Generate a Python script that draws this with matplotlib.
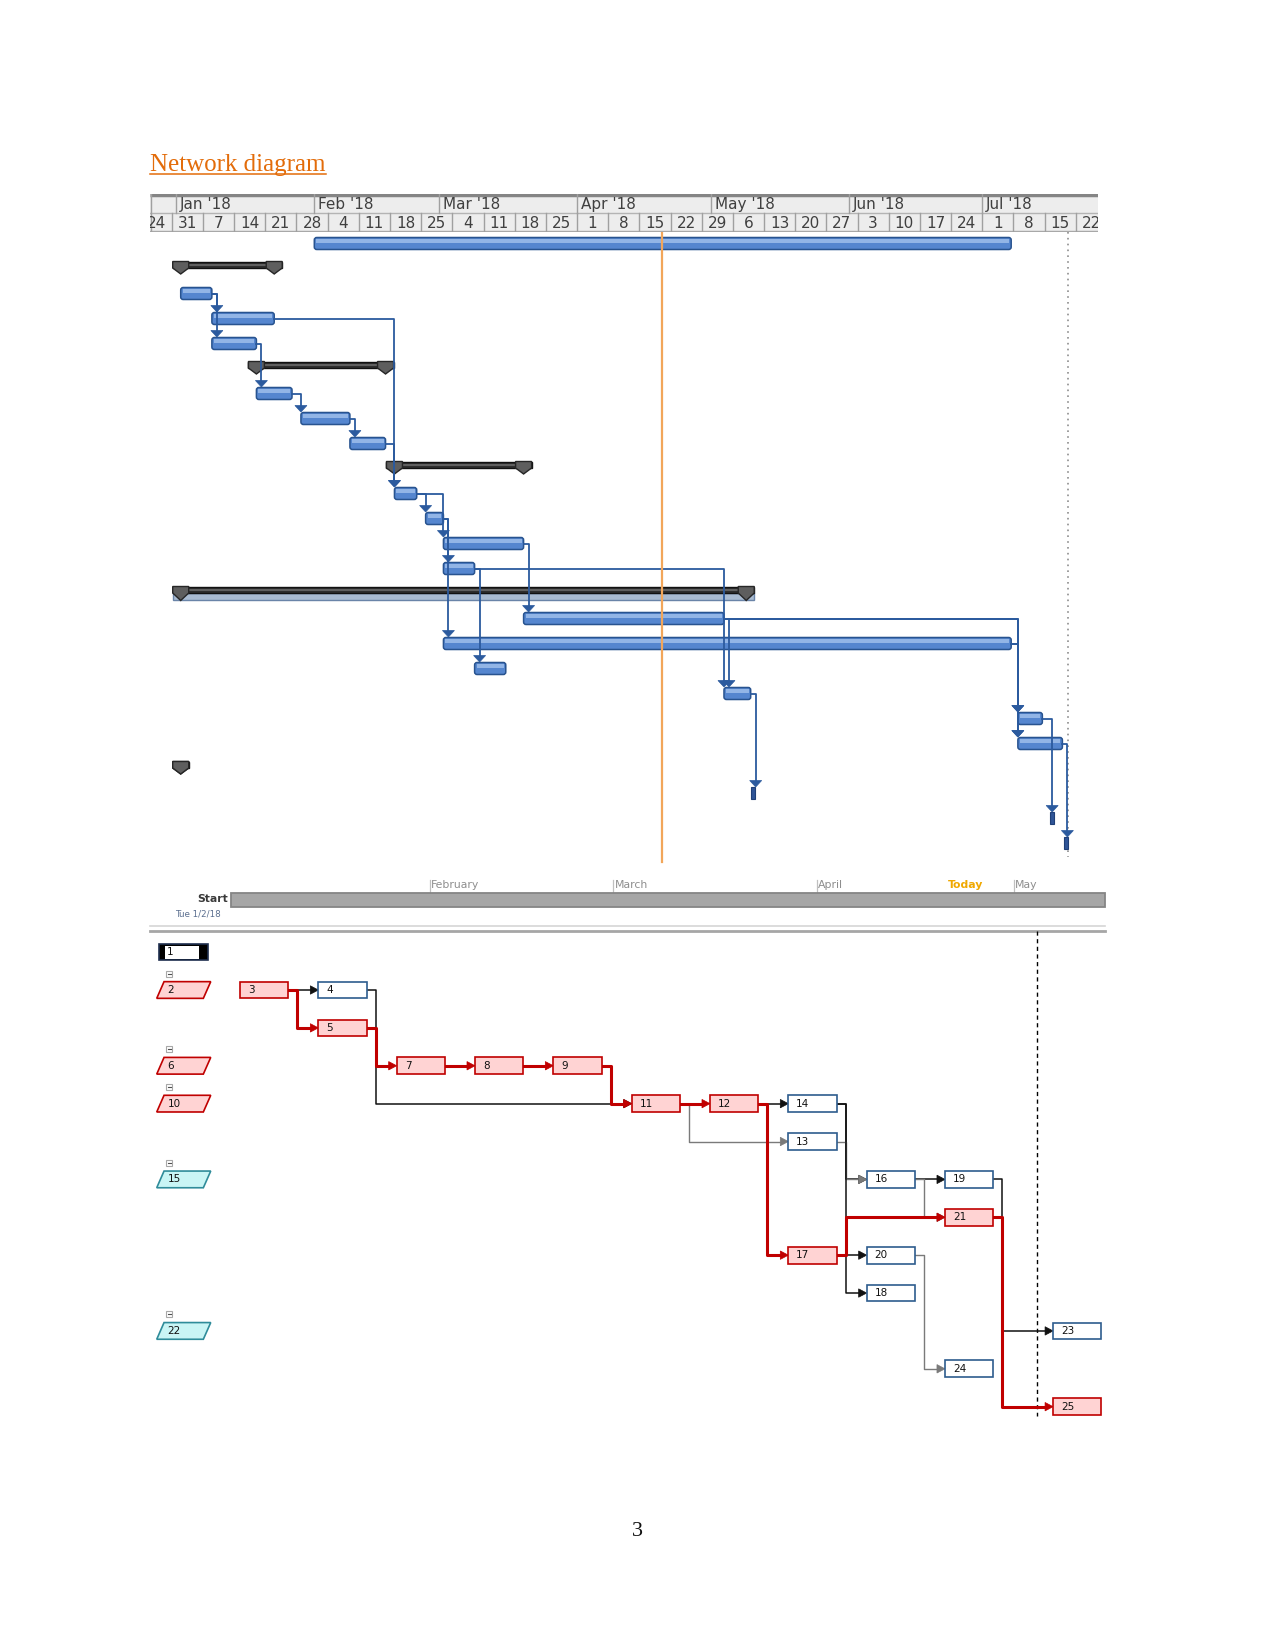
import matplotlib
matplotlib.use("Agg")
import matplotlib.pyplot as plt
from matplotlib.patches import Rectangle, Polygon, FancyBboxPatch
from matplotlib.lines import Line2D
import numpy as np

# ====================== DATA ======================
# Gantt timescale
month_labels = ["Jan '18", "Feb '18", "Mar '18", "Apr '18", "May '18", "Jun '18", "Jul '18"]
month_dates = ["2018-01-01", "2018-02-01", "2018-03-01", "2018-04-01",
               "2018-05-01", "2018-06-01", "2018-07-01"]
week_labels = ["24", "31", "7", "14", "21", "28", "4", "11", "18", "25", "4", "11", "18", "25",
               "1", "8", "15", "22", "29", "6", "13", "20", "27", "3", "10", "17", "24",
               "1", "8", "15", "22"]
week_first_date = "2017-12-24"
base_date = "2017-12-31"          # day 0 of the Gantt scale

# Gantt tasks (days after Sun 31 Dec 2017); row = id - 1
task_ids = list(range(1, 26))
task_kind = ["task", "summary", "task", "task", "task", "summary", "task", "task", "task",
             "summary", "task", "task", "task", "task", "summary2", "task", "task", "task",
             "task", "task", "task", "summary", "milestone", "milestone", "milestone"]
task_start = [32, 2, 2, 9, 9, 19, 19, 29, 40, 50, 50, 57, 61, 61, 2, 79, 61, 68, 124,
              190, 190, 2, 130.5, 197.7, 200.8]
task_finish = [188.5, 23, 9, 23, 19, 48, 27, 40, 48, 79, 55, 61, 79, 68, 129, 124, 188.5,
               75, 130, 195.5, 200, 2, 130.5, 197.7, 200.8]
gantt_links = [(3, 4), (3, 5), (4, 11), (9, 11), (5, 7), (7, 8), (8, 9), (11, 12), (11, 13),
               (12, 14), (12, 17), (13, 16), (14, 18), (14, 19), (16, 19), (16, 20), (16, 21),
               (17, 20), (17, 21), (19, 23), (20, 24), (21, 25)]
today_day = 110.0
status_day = 201.3

# Timeline strip
tl_start_date = "2018-01-02"
tl_end_date = "2018-05-15"
tl_today_date = "2018-04-20"
tl_month_labels = ["February", "March", "April", "May"]
tl_month_dates = ["2018-02-01", "2018-03-01", "2018-04-01", "2018-05-01"]
tl_start_label = "Start"
tl_start_text = "Tue 1/2/18"

# Network diagram nodes (layout column / row)
net_ids = list(range(1, 26))
net_col = [-1.03, -1.063, 0, 1, 1, -1.063, 2, 3, 4, -1.063, 5, 6, 7, 7, -1.063, 8, 7, 8, 9,
           8, 9, -1.063, 10.38, 9, 10.38]
net_row = [0, 1, 1, 1, 2, 3, 3, 3, 3, 4, 4, 4, 5, 4, 6, 6, 8, 9, 6, 8, 7, 10, 10, 11, 12]
net_kind = ["sel", "sumcrit", "crit", "norm", "crit", "sumcrit", "crit", "crit", "crit",
            "sumcrit", "crit", "crit", "norm", "norm", "sumcyan", "norm", "crit", "norm",
            "norm", "norm", "crit", "sumcyan", "norm", "norm", "crit"]
net_links = [(3, 4, "k"), (3, 5, "r"), (4, 11, "k"), (5, 7, "r"), (7, 8, "r"), (8, 9, "r"),
             (9, 11, "r"), (11, 12, "r"), (11, 13, "g"), (12, 14, "k"), (12, 17, "r"),
             (14, 16, "k"), (13, 16, "g"), (14, 18, "k"), (16, 19, "k"), (16, 21, "g"),
             (17, 20, "k"), (17, 21, "r"), (19, 23, "k"), (20, 24, "g"), (21, 25, "r")]
net_status_col = 10.18

title_text = "Network diagram"
page_number = "3"

# ====================== FIGURE ======================
W, H = 1275, 1650
fig = plt.figure(figsize=(W / 100, H / 100), dpi=100)
plt.rcParams['font.family'] = ['DejaVu Sans']


def add_ax(x0, y0, x1, y1, z=1):
    ax = fig.add_axes([x0 / W, 1 - y1 / H, (x1 - x0) / W, (y1 - y0) / H])
    ax.set_axis_off()
    ax.set_zorder(z)
    return ax


def days(d, base):
    return float((np.datetime64(d) - np.datetime64(base)).astype(int))


# ---------- Title ----------
t = fig.text(150 / W, 1 - 171.5 / H, title_text, fontfamily="Liberation Serif", fontsize=18,
             color="#E36C0A", va="baseline", ha="left")
fig.canvas.draw()
bb = t.get_window_extent()
inv = fig.transFigure.inverted()
(ux0, _), (ux1, _) = inv.transform([(bb.x0, 0), (bb.x1, 0)])
fig.add_artist(Line2D([ux0, ux1], [1 - 174 / H] * 2, color="#E36C0A", lw=1.1))

# ---------- Gantt scale ----------
GX0, GPXD = 171.8, 4.453
ROW0, ROWH = 243.0, 25.0
dx, dy = 1 / GPXD, 1 / ROWH
XL = ((150 - GX0) / GPXD, (1098 - GX0) / GPXD)

# header
hx = add_ax(150, 194, 1098, 232, z=2)
hx.set_xlim(*XL)
hx.set_ylim(2, 0)
hx.add_patch(Rectangle((XL[0], 0), XL[1] - XL[0], 2, fc="#EDEDED", ec="none", zorder=0))
hx.plot(XL, [0.06, 0.06], color="#858585", lw=2.5, zorder=2, solid_capstyle="butt")
hx.plot(XL, [1, 1], color="#B4B4B4", lw=1, zorder=2)
hx.plot(XL, [1.96, 1.96], color="#A8A8A8", lw=1, zorder=2)
hx.plot([XL[0] + 0.2, XL[0] + 0.2], [0, 2], color="#A0A0A0", lw=1, zorder=2)
for lab, d in zip(month_labels, month_dates):
    md = days(d, base_date)
    hx.plot([md, md], [0, 1], color="#A0A0A0", lw=1, zorder=2)
    hx.text(md + 4 * dx, 0.56, lab, ha="left", va="center", fontsize=11, color="#404040",
            clip_on=True)
w0 = days(week_first_date, base_date)
for i, lab in enumerate(week_labels):
    wd = w0 + 7 * i
    hx.plot([wd, wd], [1, 2], color="#A0A0A0", lw=1, zorder=2)
    hx.text(wd + 3.5, 1.55, lab, ha="center", va="center", fontsize=11, color="#404040",
            clip_on=True)

# body
gx = add_ax(150, 232, 1098, 875, z=1)
gx.set_xlim(*XL)
gx.set_ylim((875 - ROW0) / ROWH, (232 - ROW0) / ROWH)

BAR_FC, BAR_EC, BAR_HI = "#5586CF", "#28538F", "#A2C1EC"
LINK_C = "#2B5A9E"


def blue_bar(s, e, r):
    y0 = r - 5.5 * dy
    gx.add_patch(FancyBboxPatch((s, y0), e - s, 12 * dy,
                                boxstyle=f"round,pad=0,rounding_size={2.5 * dx}",
                                mutation_aspect=dy / dx, fc=BAR_FC, ec=BAR_EC, lw=1.1, zorder=3))
    gx.add_patch(Rectangle((s + 2 * dx, y0 + 1.5 * dy), max(e - s - 4 * dx, 0.1), 3.5 * dy,
                           fc=BAR_HI, ec="none", alpha=0.8, zorder=3.1))


def summary_bar(s, e, r, double=False):
    x0, x1 = s - 8 * dx, e + 8 * dx
    if double:
        gx.add_patch(Rectangle((x0, r), x1 - x0, 6.5 * dy, fc="#A9BBD1", ec="#6A84A8",
                               lw=1, zorder=2.9))
    gx.add_patch(Rectangle((x0, r - 6 * dy), x1 - x0, 6 * dy, fc="#2E2E2E", ec="#111111",
                           lw=1, zorder=3))
    gx.plot([x0 + 8 * dx, x1 - 8 * dx], [r - 3 * dy] * 2, color="#6A6A6A", lw=1.2, zorder=3.05)
    tip = 7.5 if double else 6
    for c in (s, e):
        pts = [(c - 8 * dx, r - 6.5 * dy), (c + 8 * dx, r - 6.5 * dy), (c + 8 * dx, r),
               (c, r + tip * dy), (c - 8 * dx, r)]
        gx.add_patch(Polygon(pts, closed=True, fc="#5E5E5E", ec="#262626", lw=1, zorder=3.2))


for tid, kind, s, e in zip(task_ids, task_kind, task_start, task_finish):
    r = tid - 1
    if kind == "task":
        blue_bar(s, e, r)
    elif kind == "summary":
        summary_bar(s, e, r)
    elif kind == "summary2":
        summary_bar(s, e, r, double=True)
    else:
        gx.add_patch(Rectangle((s - 2 * dx, r - 6 * dy), 4 * dx, 12 * dy, fc="#2F5597",
                               ec="#1F3F77", lw=0.8, zorder=3))

# links
for p, q in gantt_links:
    pr, qr = p - 1, q - 1
    pe = task_finish[p - 1]
    qs = task_start[q - 1]
    vx = max(pe + 5 * dx, qs)
    top = qr - 6 * dy
    gx.plot([pe, vx, vx], [pr + 0.5 * dy, pr + 0.5 * dy, top - 5 * dy], color=LINK_C, lw=1.3,
            zorder=4, solid_joinstyle="round")
    gx.add_patch(Polygon([(vx - 6 * dx, top - 6.5 * dy), (vx + 6 * dx, top - 6.5 * dy), (vx, top)],
                         closed=True, fc=LINK_C, ec=LINK_C, lw=0.5, zorder=4.1))

# today & status lines
gx.plot([today_day] * 2, [gx.get_ylim()[1], (862 - ROW0) / ROWH], color="#F2A65A", lw=1.6,
        zorder=5)
gx.plot([status_day] * 2, [gx.get_ylim()[1], (857 - ROW0) / ROWH], color="#8E8E8E", lw=1.2,
        ls=(0, (1, 2.5)), zorder=0.5)

# ---------- Timeline strip ----------
TX0, TPXD = 233.0, 6.56
tx = add_ax(140, 870, 1110, 935, z=1)
tx.set_xlim((140 - TX0) / TPXD, (1110 - TX0) / TPXD)
tx.set_ylim(935, 870)
tdx = 1 / TPXD
tl_end = days(tl_end_date, tl_start_date)
tl_x0 = -2.4 * tdx
tx.add_patch(Rectangle((tl_x0, 893.3), tl_end - tl_x0, 13.4, fc="#A6A6A6", ec="#858585",
                       lw=1.3, zorder=2))
for lab, d in zip(tl_month_labels, tl_month_dates):
    md = days(d, tl_start_date)
    tx.plot([md, md], [880, 893], color="#C0C0C0", lw=0.9, zorder=1)
    tx.text(md + 1.5 * tdx, 888.5, lab, ha="left", va="baseline", fontsize=7.8,
            color="#8E8E8E")
td = days(tl_today_date, tl_start_date)
tx.text(td + 6 * tdx, 888.5, "Today", ha="left", va="baseline", fontsize=7.8,
        color="#F0A800", fontweight="bold")
tx.text(-5 * tdx, 899, tl_start_label, ha="right", va="center", fontsize=7.8,
        color="#3A3A3A", fontweight="semibold")
tx.text(-12 * tdx, 914, tl_start_text, ha="right", va="center", fontsize=6.3,
        color="#5B6F8F")

# separators between timeline and network
fig.add_artist(Line2D([150 / W, 1104.6 / W], [1 - 926 / H] * 2, color="#D6D6D6", lw=1.2))
fig.add_artist(Line2D([150 / W, 1104.6 / W], [1 - 931 / H] * 2, color="#A6A6A6", lw=2))

# ---------- Network diagram ----------
NX0, NDX = 240.0, 78.33
NY1, NDY = 990.0, 37.88
nx = add_ax(140, 926, 1112, 1432, z=3)
nx.set_xlim((140 - NX0) / NDX, (1112 - NX0) / NDX)
nx.set_ylim(1 + (1432 - NY1) / NDY, 1 + (926 - NY1) / NDY)
px, py = 1 / NDX, 1 / NDY
NW, NH = 48.3 * px, 16.7 * py

node_pos = {i: (c, r) for i, c, r in zip(net_ids, net_col, net_row)}

# status (dashed) line
nx.plot([net_status_col] * 2, [1 + (931 - NY1) / NDY, 1 + (1415.7 - NY1) / NDY],
        color="black", lw=1, ls=(0, (3, 2.5)), zorder=1)

edge_style = {"k": ("#111111", 1.1, 2), "g": ("#7A7A7A", 1.0, 2), "r": ("#C00000", 2.2, 3)}
for s, d, c in sorted(net_links, key=lambda l: l[2] == "r"):
    col, lw, z = edge_style[c]
    sc, sr = node_pos[s]
    dc, dr = node_pos[d]
    sx = sc + NW
    if sr == dr:
        xs, ys = [sx, dc - 7 * px], [sr, dr]
    else:
        vx = sx + 9 * px
        xs, ys = [sx, vx, vx, dc - 7 * px], [sr, sr, dr, dr]
    nx.plot(xs, ys, color=col, lw=lw, zorder=z, solid_joinstyle="round")
    nx.add_patch(Polygon([(dc - 8 * px, dr - 4.2 * py), (dc - 8 * px, dr + 4.2 * py), (dc, dr)],
                         closed=True, fc=col, ec=col, lw=0.5, zorder=z + 0.1))

PINK, RED = "#FFD3D3", "#C00000"
BLUE_E = "#2E5C8E"
CYAN, TEAL = "#C9F5F5", "#2F8C9A"
for i, kind in zip(net_ids, net_kind):
    c, r = node_pos[i]
    y0 = r - NH / 2
    if kind in ("crit", "norm"):
        fc, ec = (PINK, RED) if kind == "crit" else ("white", BLUE_E)
        nx.add_patch(Rectangle((c, y0), NW, NH, fc=fc, ec=ec, lw=1.2, zorder=5))
        nx.text(c + 8 * px, r, str(i), ha="left", va="center", fontsize=7.5, color="#111111",
                zorder=6)
    elif kind == "sel":
        nx.add_patch(Rectangle((c, y0), NW, NH, fc="black", ec="#1F2F4F", lw=1.2, zorder=5))
        nx.add_patch(Rectangle((c + 5.5 * px, y0 + 1.8 * py), NW - 14 * px, NH - 3.6 * py,
                               fc="white", ec="none", zorder=5.1))
        nx.text(c + 7 * px, r, str(i), ha="left", va="center", fontsize=7.5, color="#111111",
                zorder=6)
    else:
        fc, ec = (PINK, RED) if kind == "sumcrit" else (CYAN, TEAL)
        pts = [(c, r + NH / 2), (c + 7.3 * px, r - NH / 2), (c + 54 * px, r - NH / 2),
               (c + 46.6 * px, r + NH / 2)]
        nx.add_patch(Polygon(pts, closed=True, fc=fc, ec=ec, lw=1.2, zorder=5))
        nx.text(c + 11 * px, r, str(i), ha="left", va="center", fontsize=7.5, color="#111111",
                zorder=6)
        # collapse icon
        ix, iy = c + 9.5 * px, r - 16.5 * py
        nx.add_patch(Rectangle((ix, iy - 3 * py), 6 * px, 6 * py, fc="white", ec="#A8A8A8",
                               lw=0.8, zorder=5))
        nx.plot([ix + 1.5 * px, ix + 4.5 * px], [iy, iy], color="#505050", lw=0.8, zorder=5.1)

# ---------- page number ----------
fig.text(637.5 / W, 1 - 1531 / H, page_number, fontfamily="Liberation Serif", fontsize=16,
         ha="center", va="center", color="#111111")

fig.savefig("out.png", dpi=100)
